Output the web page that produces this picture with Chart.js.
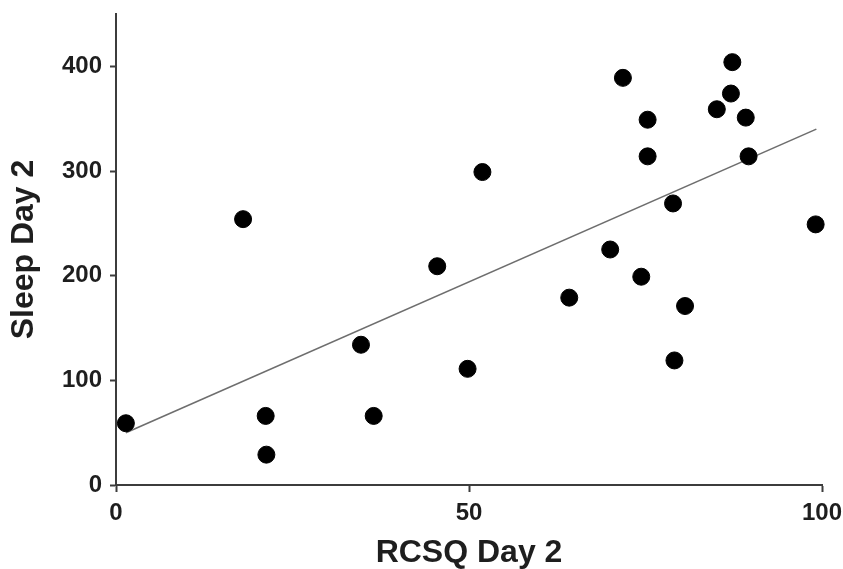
<!DOCTYPE html>
<html>
<head>
<meta charset="utf-8">
<script src="https://cdn.jsdelivr.net/npm/chart.js@4/dist/chart.umd.min.js"></script>
<style>
  html, body { margin: 0; padding: 0; background: #fff; }
  #wrap { width: 843px; height: 569px; }
</style>
</head>
<body>
<div id="wrap"><canvas id="scatterChart"></canvas></div>
<script>
// RCSQ Day 2 (x) vs Sleep Day 2 (y)
const rcsq = [1.4, 18.0, 21.2, 21.3, 34.7, 36.5, 45.5, 49.8, 51.9, 64.2, 70.0, 71.8,
              74.4, 75.3, 75.3, 78.9, 79.1, 80.6, 85.1, 87.1, 87.3, 89.2, 89.6, 99.1];
const sleep = [59, 254, 66, 29, 134, 66, 209, 111, 299, 179, 225, 389,
               199, 349, 314, 269, 119, 171, 359, 374, 404, 351, 314, 249];

// fitted line end points as drawn
const fitX = [1.4, 99.2];
const fitY = [50, 340];

const xTicks = [0, 50, 100];
const yTicks = [0, 100, 200, 300, 400];

const axisColor = '#3c3c3c';
const textColor = '#1e1e1e';
const fontFamily = '"Liberation Sans", Arial, Helvetica, sans-serif';

const points = rcsq.map((x, i) => ({ x: x, y: sleep[i] }));
const fitLine = fitX.map((x, i) => ({ x: x, y: fitY[i] }));

new Chart(document.getElementById('scatterChart'), {
    type: 'scatter',
    data: {
        datasets: [
            {
                label: 'Fit',
                type: 'line',
                data: fitLine,
                borderColor: '#6e6e6e',
                borderWidth: 1.6,
                pointRadius: 0,
                fill: false,
                order: 2
            },
            {
                label: 'Subjects',
                data: points,
                backgroundColor: '#000',
                borderColor: '#000',
                pointRadius: 8.5,
                pointHoverRadius: 8.5,
                order: 1
            }
        ]
    },
    options: {
        responsive: true,
        maintainAspectRatio: false,
        animation: false,
        clip: false,
        layout: { padding: { top: 14, right: 21, left: 0, bottom: 0 } },
        plugins: {
            legend: { display: false },
            tooltip: { enabled: false }
        },
        scales: {
            x: {
                type: 'linear',
                min: 0,
                max: 100,
                afterBuildTicks: s => { s.ticks = xTicks.map(v => ({ value: v })); },
                afterFit: s => {
                    s.height = 84;
                    s.paddingLeft = 0;
                    s.paddingRight = 0;
                },
                grid: {
                    drawOnChartArea: false,
                    drawTicks: true,
                    tickLength: 7,
                    tickWidth: 2,
                    tickColor: axisColor
                },
                border: { display: true, color: axisColor, width: 2 },
                ticks: {
                    color: textColor,
                    padding: 7,
                    maxRotation: 0,
                    font: { family: fontFamily, size: 24, weight: 'bold' }
                },
                title: {
                    display: true,
                    text: 'RCSQ Day 2',
                    color: textColor,
                    padding: { top: 0, bottom: 0 },
                    font: { family: fontFamily, size: 32, weight: 'bold', lineHeight: 1 }
                }
            },
            y: {
                type: 'linear',
                min: 0,
                max: 450,
                afterBuildTicks: s => { s.ticks = yTicks.map(v => ({ value: v })); },
                afterFit: s => {
                    s.width = 116;
                    s.paddingTop = 0;
                    s.paddingBottom = 0;
                },
                grid: {
                    drawOnChartArea: false,
                    drawTicks: true,
                    tickLength: 6,
                    tickWidth: 2,
                    tickColor: axisColor
                },
                border: { display: true, color: axisColor, width: 2 },
                ticks: {
                    color: textColor,
                    padding: 8,
                    font: { family: fontFamily, size: 24, weight: 'bold' }
                },
                title: {
                    display: true,
                    text: 'Sleep Day 2',
                    color: textColor,
                    padding: { top: 8, bottom: 0 },
                    font: { family: fontFamily, size: 32, weight: 'bold', lineHeight: 1 }
                }
            }
        }
    }
});
</script>
</body>
</html>
